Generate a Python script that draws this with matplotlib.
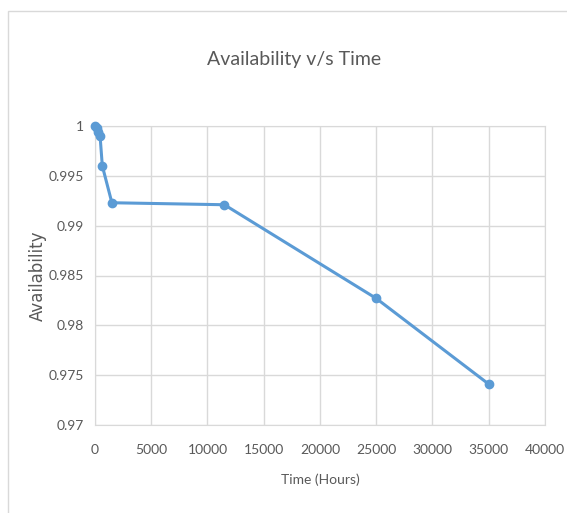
import matplotlib
matplotlib.use("Agg")
import matplotlib.pyplot as plt
from matplotlib.patches import Rectangle

# data
time_hours = [0, 150, 300, 450, 650, 1500, 11500, 25000, 35000]
availability = [1.0, 0.9998, 0.9994, 0.9990, 0.9960, 0.9923, 0.9921, 0.9827, 0.9741]

xticks = [0, 5000, 10000, 15000, 20000, 25000, 30000, 35000, 40000]
yticks = [0.97, 0.975, 0.98, 0.985, 0.99, 0.995, 1.0]
ytick_labels = ['0.97', '0.975', '0.98', '0.985', '0.99', '0.995', '1']

blue = '#5B9BD5'
txt = '#595959'
grid = '#D9D9D9'

fig = plt.figure(figsize=(5.67, 5.13), dpi=100)
fig.patch.set_facecolor('white')

# chart area border
fig.add_artist(Rectangle((8/567, -0.05), 1.2, 1 - 11/513 + 0.05, transform=fig.transFigure,
                         fill=False, edgecolor=grid, linewidth=1))

ax = fig.add_axes([95/567, 88/513, 450/567, 299/513])
ax.plot(time_hours, availability, color=blue, linewidth=2.2, marker='o', markersize=6,
        zorder=3, clip_on=False)

ax.set_xlim(0, 40000)
ax.set_ylim(0.97, 1.0)
ax.set_xticks(xticks)
ax.set_xticklabels([str(x) for x in xticks])
ax.set_yticks(yticks)
ax.set_yticklabels(ytick_labels)

ax.grid(True, color=grid, linewidth=1)
ax.set_axisbelow(True)
for s in ax.spines.values():
    s.set_color(grid)
ax.tick_params(length=0, labelsize=10, labelcolor=txt)
ax.tick_params(axis='x', pad=14)
ax.tick_params(axis='y', pad=8)
for lab in ax.get_xticklabels() + ax.get_yticklabels():
    lab.set_family('Lato')

fig.text(294/567, 1 - 60/513, 'Availability v/s Time', ha='center', va='center',
         fontsize=14, color=txt, family='Lato')
ax.set_xlabel('Time (Hours)', fontsize=10, color=txt, family='Lato', labelpad=12)
fig.text(38/567, 1 - 276/513, 'Availability', rotation=90, ha='center', va='center',
         fontsize=12, color=txt, family='DejaVu Sans')

fig.savefig('out.png', dpi=100)
